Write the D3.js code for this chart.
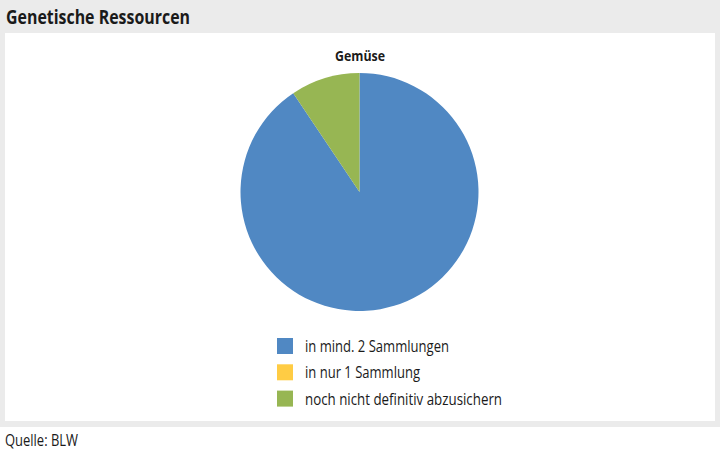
<!DOCTYPE html>
<html><head><meta charset="utf-8">
<script src="https://cdn.jsdelivr.net/npm/d3@7"></script>
<style>body{margin:0;background:#fff;}svg{display:block;font-family:"Open Sans",sans-serif;}</style>
</head><body>
<svg id="c" width="720" height="455"></svg>
<script>
const categories = ["in mind. 2 Sammlungen", "in nur 1 Sammlung", "noch nicht definitiv abzusichern"];
const values = [90.6, 0, 9.4];
const colors = ["#5088c3", "#ffcc44", "#97b653"];
const chartTitle = "Genetische Ressourcen";
const pieTitle = "Gemüse";
const source = "Quelle: BLW";

const svg = d3.select("#c");
svg.append("rect").attr("x",0).attr("y",0).attr("width",720).attr("height",427).attr("fill","#ebebeb");
svg.append("rect").attr("x",5).attr("y",33).attr("width",710).attr("height",388).attr("fill","#fff");

function fit(sel, w){ sel.attr("textLength", w).attr("lengthAdjust","spacingAndGlyphs"); return sel; }

fit(svg.append("text").attr("x",6).attr("y",24).attr("font-size",20).attr("font-weight","bold").attr("fill","#1a1a1a").text(chartTitle),184);
fit(svg.append("text").attr("x",335).attr("y",61).attr("font-size",15).attr("font-weight","bold").attr("fill","#1a1a1a").text(pieTitle),50);
fit(svg.append("text").attr("x",5).attr("y",446).attr("font-size",16).attr("fill","#1a1a1a").text(source),73);

const cx = 359.5, cy = 192, r = 119;
const pie = d3.pie().sort(null).value(d=>d);
const arc = d3.arc().innerRadius(0).outerRadius(r);
const g = svg.append("g").attr("transform",`translate(${cx},${cy})`);
g.selectAll("path").data(pie(values)).join("path")
  .attr("d",arc).attr("fill",(d,i)=>colors[i]);

const legendY = d3.scalePoint().domain(categories).range([346, 398.6]);
const lg = svg.append("g");
const item = lg.selectAll("g").data(categories).join("g")
  .attr("transform",d=>`translate(277,${legendY(d)})`);
item.append("rect").attr("x",0).attr("y",-8).attr("width",16).attr("height",16).attr("fill",(d,i)=>colors[i]);
const lw = [144, 115, 197];
item.append("text").attr("x",28).attr("y",6).attr("font-size",15.5).attr("fill","#1a1a1a")
  .text(d=>d).each(function(d,i){ d3.select(this).attr("textLength",lw[i]).attr("lengthAdjust","spacingAndGlyphs"); });
</script>
</body></html>
